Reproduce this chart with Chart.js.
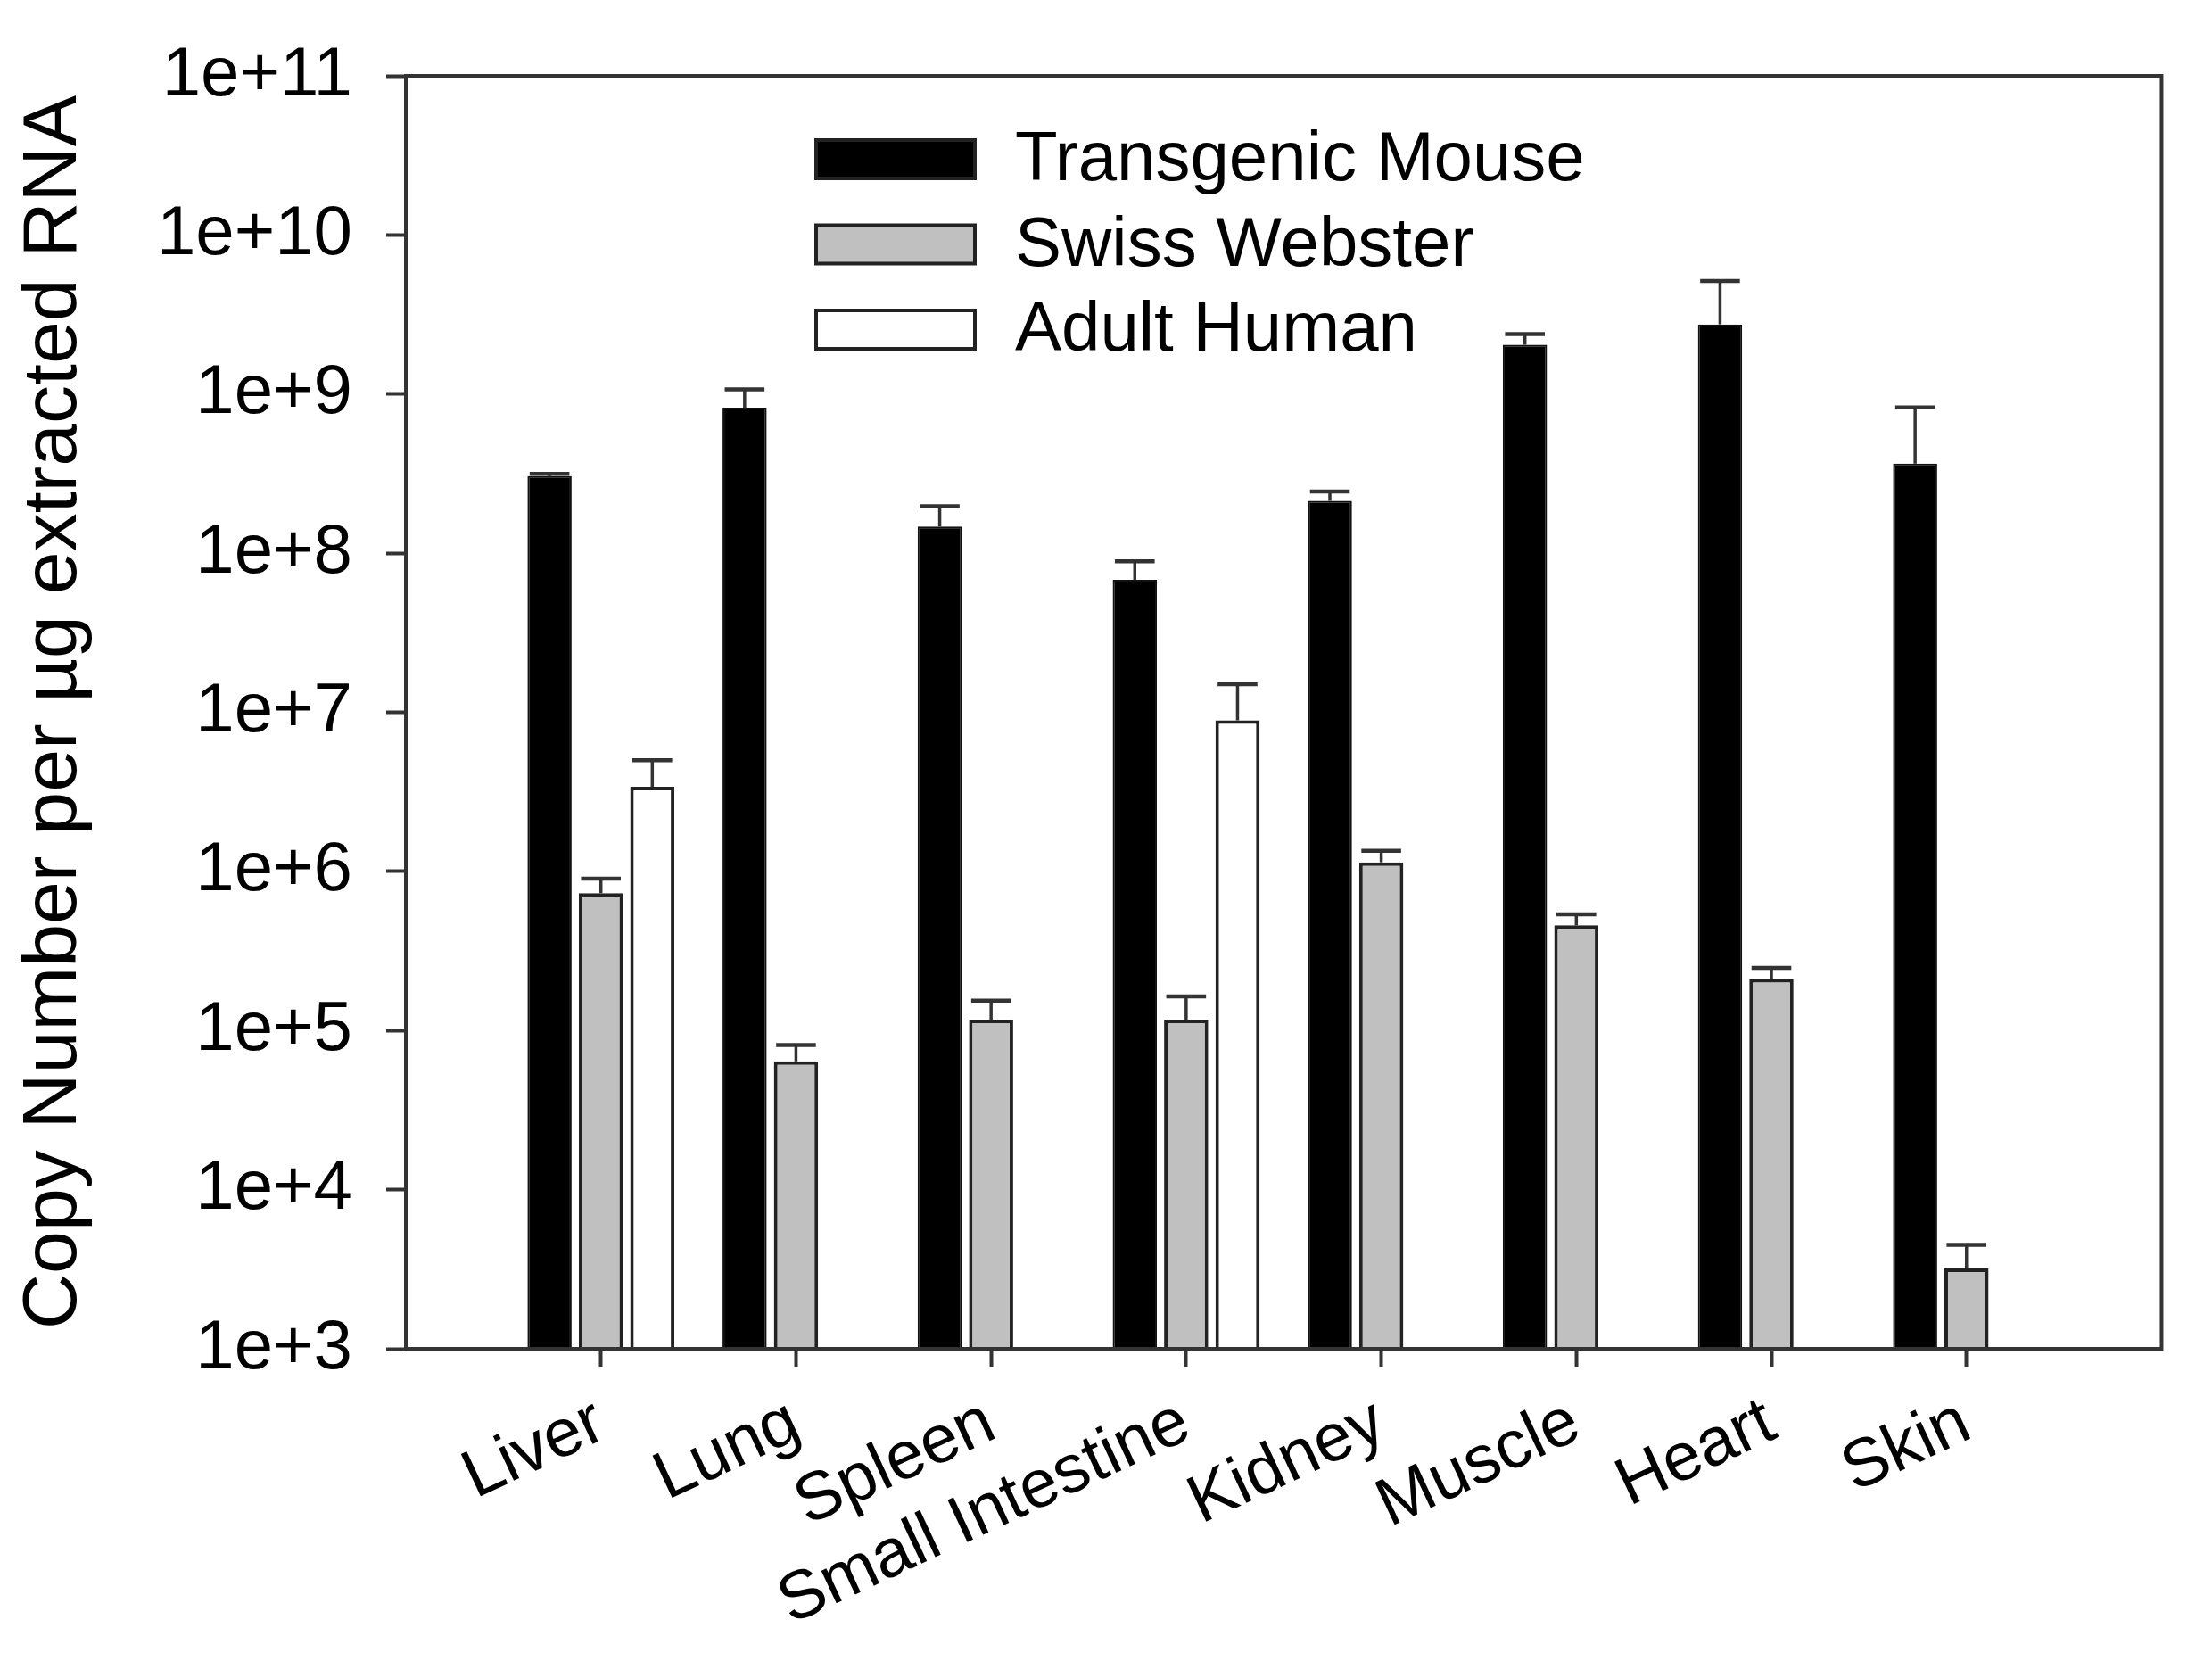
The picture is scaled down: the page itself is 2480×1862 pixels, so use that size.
<!DOCTYPE html>
<html>
<head>
<meta charset="utf-8">
<script src="https://cdn.jsdelivr.net/npm/chart.js@4/dist/chart.umd.min.js"></script>
<style>
  html, body { margin: 0; padding: 0; background: #fff; }
  #wrap { width: 2480px; height: 1862px; }
</style>
</head>
<body>
<div id="wrap"><canvas id="chart" width="2480" height="1862"></canvas></div>
<script>
// tissues on the x axis
const categories = ['Liver', 'Lung', 'Spleen', 'Small Intestine', 'Kidney', 'Muscle', 'Heart', 'Skin'];

// copy number per ug extracted RNA (bar heights)
const transgenicMouse = [3.05e8, 8.2e8, 1.47e8, 6.8e7, 2.13e8, 2.04e9, 2.74e9, 3.65e8];
const swissWebster = [7.3e5, 6.4e4, 1.17e5, 1.17e5, 1.14e6, 4.58e5, 2.11e5, 3.2e3];
const adultHuman = [3.4e6, null, null, 8.9e6, null, null, null, null];

// upper error (amount added to the bar)
const transgenicMouseErr = [1.0e7, 2.5e8, 5.0e7, 2.1e7, 3.1e7, 3.4e8, 2.4e9, 4.6e8];
const swissWebsterErr = [1.7e5, 1.7e4, 3.7e4, 4.7e4, 2.1e5, 7.9e4, 3.7e4, 1.3e3];
const adultHumanErr = [1.6e6, null, null, 6.1e6, null, null, null, null];

// y axis decades
const yTickExponents = [3, 4, 5, 6, 7, 8, 9, 10, 11];

const FONT = "'Liberation Sans', Arial, sans-serif";
const LINE = '#333';

// empty slot at each end so the axis runs from 0 to 9
const pad = arr => [null, ...arr, null];
const labels = ['', ...categories, ''];

const errorBars = {
  id: 'errorBars',
  afterDatasetsDraw(chart) {
    const ctx = chart.ctx;
    const y = chart.scales.y;
    ctx.save();
    ctx.strokeStyle = LINE;
    chart.data.datasets.forEach((ds, di) => {
      const meta = chart.getDatasetMeta(di);
      meta.data.forEach((bar, i) => {
        const v = ds.data[i];
        const e = ds.errors[i];
        if (v == null || e == null) return;
        const top = y.getPixelForValue(v + e);
        const half = bar.width * 0.45;
        ctx.lineWidth = 3.5;
        ctx.beginPath();
        ctx.moveTo(bar.x, bar.y);
        ctx.lineTo(bar.x, top);
        ctx.stroke();
        ctx.lineWidth = 4.5;
        ctx.beginPath();
        ctx.moveTo(bar.x - half, top);
        ctx.lineTo(bar.x + half, top);
        ctx.stroke();
      });
    });
    ctx.restore();
  }
};

const frame = {
  id: 'frame',
  afterDraw(chart) {
    const {ctx, chartArea: a} = chart;
    ctx.save();
    ctx.strokeStyle = LINE;
    ctx.lineWidth = 4;
    ctx.strokeRect(a.left, a.top, a.right - a.left, a.bottom - a.top);
    ctx.restore();
  }
};

const boxLegend = {
  id: 'boxLegend',
  afterDraw(chart) {
    const {ctx, chartArea: a} = chart;
    const x0 = a.left + 460, y0 = a.top + 72;
    const bw = 178, bh = 43, step = 95.5;
    ctx.save();
    ctx.font = '78px ' + FONT;
    ctx.textBaseline = 'middle';
    chart.data.datasets.forEach((ds, i) => {
      const yy = y0 + i * step;
      ctx.fillStyle = ds.backgroundColor;
      ctx.fillRect(x0, yy, bw, bh);
      ctx.strokeStyle = '#222';
      ctx.lineWidth = 4;
      ctx.strokeRect(x0, yy, bw, bh);
      ctx.fillStyle = '#000';
      ctx.fillText(ds.label, x0 + 223, yy + bh / 2 + 2);
    });
    ctx.restore();
  }
};

new Chart(document.getElementById('chart'), {
  type: 'bar',
  data: {
    labels: labels,
    datasets: [
      { label: 'Transgenic Mouse', data: pad(transgenicMouse), errors: pad(transgenicMouseErr),
        backgroundColor: '#000', borderColor: '#111', borderWidth: 2 },
      { label: 'Swiss Webster', data: pad(swissWebster), errors: pad(swissWebsterErr),
        backgroundColor: '#c0c0c0', borderColor: '#222', borderWidth: 4 },
      { label: 'Adult Human', data: pad(adultHuman), errors: pad(adultHumanErr),
        backgroundColor: '#fff', borderColor: '#222', borderWidth: 4 }
    ]
  },
  options: {
    responsive: false,
    devicePixelRatio: 1,
    animation: false,
    categoryPercentage: 0.79,
    barPercentage: 0.86,
    layout: { padding: { left: 0, top: 85, right: 40, bottom: 0 } },
    plugins: {
      legend: { display: false },
      tooltip: { enabled: false }
    },
    scales: {
      x: {
        type: 'category',
        offset: false,
        grid: {
          offset: false,
          drawOnChartArea: false,
          tickLength: 20,
          tickWidth: 4,
          tickColor: c => (c.tick && c.tick.label === '') ? 'rgba(0,0,0,0)' : LINE
        },
        border: { color: LINE, width: 4 },
        ticks: {
          autoSkip: false,
          minRotation: 25,
          maxRotation: 25,
          padding: 18,
          color: '#000',
          font: { family: FONT, size: 76 }
        },
        afterFit: s => { s.height = 350; }
      },
      y: {
        type: 'logarithmic',
        min: 1e3,
        max: 1e11,
        afterBuildTicks: s => { s.ticks = yTickExponents.map(e => ({ value: Math.pow(10, e) })); },
        grid: {
          drawOnChartArea: false,
          tickLength: 22,
          tickWidth: 4,
          tickColor: LINE
        },
        border: { color: LINE, width: 4 },
        ticks: {
          padding: 38,
          color: '#000',
          font: { family: FONT, size: 78 },
          callback: v => '1e+' + Math.round(Math.log10(v))
        },
        title: {
          display: true,
          text: 'Copy Number per µg extracted RNA',
          color: '#000',
          font: { family: FONT, size: 86 },
          padding: { top: 10, bottom: 0 }
        },
        afterFit: s => { s.width = 455; }
      }
    }
  },
  plugins: [errorBars, frame, boxLegend]
});
</script>
</body>
</html>
